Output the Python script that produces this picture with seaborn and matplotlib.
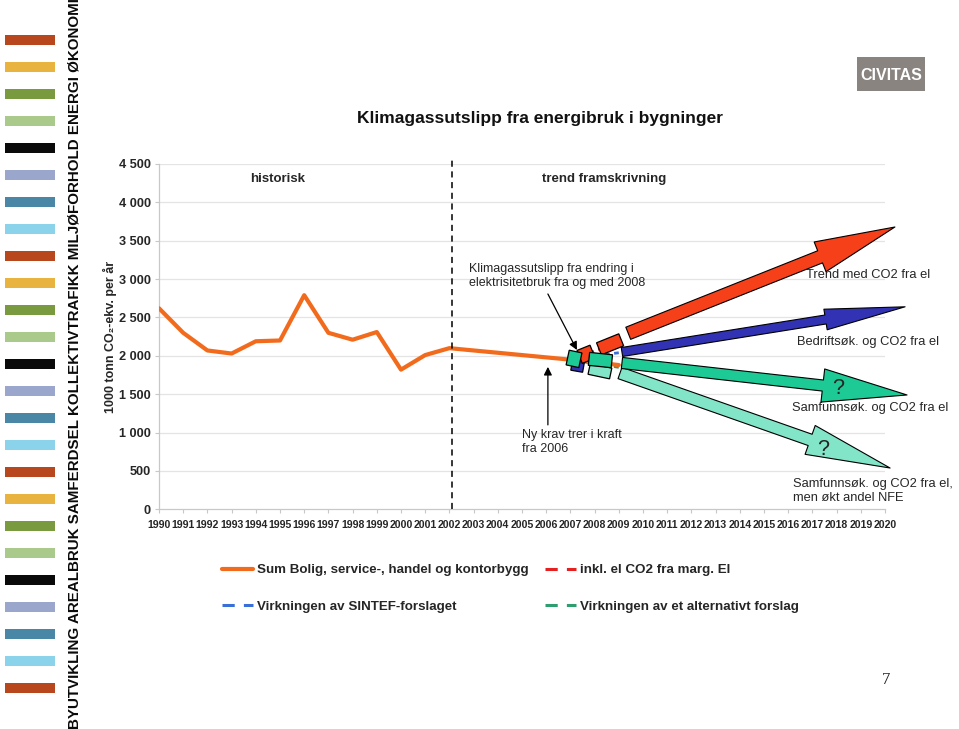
import numpy as np
import pandas as pd
import seaborn as sns
import matplotlib
matplotlib.use("Agg")
import matplotlib.pyplot as plt
from matplotlib.patches import Rectangle, Polygon
from matplotlib.lines import Line2D
from matplotlib.transforms import IdentityTransform

# ---------------- data ----------------
years_hist = list(range(1990, 2010))
sum_bygg = [2620, 2300, 2070, 2030, 2190, 2200, 2790, 2300, 2210, 2310,
            1820, 2010, 2100, 2070, 2040, 2010, 1980, 1950, 1915, 1880]
years_branch = [2007, 2008, 2009]
marg_el = [1950, 2060, 2180]
sintef = [1950, 2000, 2040]
alternativ = [1950, 1900, 1850]

x_years = list(range(1990, 2021))
y_ticks = [0, 500, 1000, 1500, 2000, 2500, 3000, 3500, 4000, 4500]
y_tick_labels = ["0", "500", "1 000", "1 500", "2 000", "2 500", "3 000", "3 500", "4 000", "4 500"]

# projection arrows (tail -> tip, in year / value)
arrow_names = ["trend", "bedrift", "samfunn", "samfunn_nfe"]
arrow_tail_x = [2009.39, 2009.13, 2009.13, 2009.05]
arrow_tail_y = [2294, 2050, 1907, 1776]
arrow_tip_x = [2020.41, 2020.83, 2020.91, 2020.21]
arrow_tip_y = [3679, 2639, 1490, 538]

SANS = "Liberation Sans"

sns.set_theme(style="white")
plt.rcParams["font.family"] = [SANS, "DejaVu Sans"]

W, H = 959, 729
fig = plt.figure(figsize=(W / 100, H / 100), dpi=100)

# background axes in pixel coordinates (slide decoration)
bg = fig.add_axes([0, 0, 1, 1], zorder=-5)
bg.set_xlim(0, W)
bg.set_ylim(H, 0)
bg.axis("off")

strip_colors = ["#B9471E", "#E9B33F", "#7A9A40", "#A9CA8A",
                "#0A0A0A", "#9AA6CB", "#4A87A6", "#8AD3EA"]
for i in range(25):
    yc = 40 + i * 27.0
    bg.add_patch(Rectangle((5, yc - 5), 50, 10, color=strip_colors[i % 8], lw=0))
bg.text(75, 364, "BYUTVIKLING AREALBRUK SAMFERDSEL KOLLEKTIVTRAFIKK MILJØFORHOLD ENERGI ØKONOMI",
        rotation=90, ha="center", va="center", fontsize=10.9, fontweight="bold",
        color="#0A0A0A")
bg.add_patch(Rectangle((857, 57), 68, 34, color="#8A8480", lw=0))
bg.text(891, 75, "CIVITAS", ha="center", va="center", color="white", fontsize=11.5,
        fontweight="bold")
bg.text(886, 680, "7", ha="center", va="center", fontsize=12,
        family=["Liberation Serif", "DejaVu Serif"], color="#222222")
bg.text(540, 118, "Klimagassutslipp fra energibruk i bygninger", ha="center", va="center",
        fontsize=12.5, fontweight="bold", color="#111111")

# main axes
ax = fig.add_axes([159 / W, 1 - 509.3 / H, 726 / W, (509.3 - 164) / H])
ax.set_xlim(1990, 2020)
ax.set_ylim(0, 4500)
ax.set_facecolor("none")

for v in y_ticks[1:]:
    ax.axhline(v, color="#E4E4E4", lw=0.9, zorder=0)

ORANGE = "#F26B1D"
sns.lineplot(x=years_hist, y=sum_bygg, ax=ax, color=ORANGE, lw=3.0, zorder=3)
sns.lineplot(x=years_branch, y=marg_el, ax=ax, color="#E52020", lw=2.0, linestyle="--", zorder=2)
sns.lineplot(x=years_branch, y=sintef, ax=ax, color="#3A6FD8", lw=2.0, linestyle="--", zorder=2)
sns.lineplot(x=years_branch, y=alternativ, ax=ax, color="#2E9E6E", lw=2.0, linestyle="--", zorder=2)

ax.set_xticks(x_years)
ax.set_xticklabels([str(y) for y in x_years], fontsize=7.6, fontweight="bold")
ax.set_yticks(y_ticks)
ax.set_yticklabels(y_tick_labels, fontsize=9.2, fontweight="bold")
ax.tick_params(axis="x", direction="out", length=3, width=0.8, color="#C8C8C8", pad=5, bottom=True)
ax.tick_params(axis="y", direction="out", length=3, width=0.8, color="#C8C8C8", pad=3, left=True)
for s in ["top", "right"]:
    ax.spines[s].set_visible(False)
for s in ["left", "bottom"]:
    ax.spines[s].set_color("#C8C8C8")
    ax.spines[s].set_linewidth(0.9)
ax.set_xlabel("")
ax.set_ylabel("1000 tonn CO₂-ekv. per år", fontsize=9.0, fontweight="bold")
ax.yaxis.label.set_va("center")
ax.yaxis.set_label_coords(-0.067, 0.5)

# dashed separator historic / projection
ax.plot([2002.1, 2002.1], [0, 4560], color="black", lw=1.1, ls=(0, (4, 3)), clip_on=False, zorder=4)
ax.text(1994.9, 4310, "historisk", ha="center", va="center", fontsize=9.5, fontweight="bold")
ax.text(2008.4, 4310, "trend framskrivning", ha="center", va="center", fontsize=9.5, fontweight="bold")

# small rotated boxes (pixel sizes)
def rot_box(center, w, h, angle, fc, z):
    cx, cy = ax.transData.transform(center)
    t = np.deg2rad(angle)
    R = np.array([[np.cos(t), -np.sin(t)], [np.sin(t), np.cos(t)]])
    c = np.array([[-w / 2, -h / 2], [w / 2, -h / 2], [w / 2, h / 2], [-w / 2, h / 2]])
    pts = c @ R.T + [cx, cy]
    ax.add_patch(Polygon(pts, closed=True, transform=IdentityTransform(), fc=fc,
                         ec="black", lw=0.9, zorder=z, clip_on=False))

RED, BLUE, GREEN, LGREEN = "#F5401A", "#3232B4", "#1DC994", "#82E5C8"
rot_box((2007.30, 1870), 12, 11, -10, BLUE, 5)
rot_box((2007.65, 2020), 14, 14, 22, RED, 5)
rot_box((2007.15, 1960), 13, 15, -12, GREEN, 6)
rot_box((2008.64, 2150), 24, 13, 22, RED, 5)
rot_box((2008.22, 1800), 22, 11, -12, LGREEN, 5)
rot_box((2008.24, 1945), 23, 13, -6, GREEN, 6)

# projection arrows (sizes in points)
arrow_colors = [RED, BLUE, GREEN, LGREEN]
arrow_tail_w = [9.4, 6.5, 8.0, 8.6]
arrow_head_w = [23, 15, 24, 22]
arrow_head_l = [58, 58, 61, 61]
arrow_z = [7, 7, 7, 6]
for i in range(4):
    ax.annotate("", xy=(arrow_tip_x[i], arrow_tip_y[i]),
                xytext=(arrow_tail_x[i], arrow_tail_y[i]),
                xycoords="data", textcoords="data", annotation_clip=False,
                arrowprops=dict(arrowstyle=f"simple,head_length={arrow_head_l[i]},"
                                           f"head_width={arrow_head_w[i]},tail_width={arrow_tail_w[i]}",
                                mutation_scale=1, fc=arrow_colors[i], ec="black", lw=0.8,
                                shrinkA=0, shrinkB=0),
                zorder=arrow_z[i])

# labels by arrows
ax.text(2016.74, 3050, "Trend med CO2 fra el", fontsize=9.3, va="center", ha="left")
ax.text(2016.36, 2177, "Bedriftsøk. og CO2 fra el", fontsize=9.3, va="center", ha="left")
ax.text(2016.16, 1321, "Samfunnsøk. og CO2 fra el", fontsize=9.3, va="center", ha="left")
ax.text(2016.20, 237, "Samfunnsøk. og CO2 fra el,\nmen økt andel NFE", fontsize=9.3,
        va="center", ha="left", linespacing=1.2)
ax.text(2018.06, 1568, "?", fontsize=15.5, ha="center", va="center", zorder=9)
ax.text(2017.44, 773, "?", fontsize=15.5, ha="center", va="center", zorder=9)

# black callouts
ax.text(2002.81, 3039, "Klimagassutslipp fra endring i\nelektrisitetbruk fra og med 2008",
        fontsize=9.0, va="center", ha="left", linespacing=1.15)
ax.annotate("", xy=(2007.27, 2076), xytext=(2006.07, 2806),
            arrowprops=dict(arrowstyle="-|>", color="black", lw=0.9, mutation_scale=12,
                            shrinkA=0, shrinkB=0), zorder=8)
ax.text(2005.0, 877, "Ny krav trer i kraft\nfra 2006", fontsize=9.0, va="center", ha="left",
        linespacing=1.15)
ax.annotate("", xy=(2006.07, 1856), xytext=(2006.07, 1100),
            arrowprops=dict(arrowstyle="-|>", color="black", lw=0.9, mutation_scale=12,
                            shrinkA=0, shrinkB=0), zorder=8)

# legend (two columns)
leg_font = dict(weight="bold", size=9.6)
h_orange = Line2D([], [], color=ORANGE, lw=3)
h_blue = Line2D([], [], color="#3A6FD8", lw=2.2, ls=(0, (4, 3)))
h_red = Line2D([], [], color="#E52020", lw=2.2, ls=(0, (4, 3)))
h_green = Line2D([], [], color="#2E9E6E", lw=2.2, ls=(0, (4, 3)))
common = dict(frameon=False, loc="upper left", handlelength=2.3, handletextpad=0.3,
              labelspacing=1.8, borderpad=0, borderaxespad=0, prop=leg_font)
l1 = fig.legend([h_orange, h_blue], ["Sum Bolig, service-, handel og kontorbygg",
                                     "Virkningen av SINTEF-forslaget"],
                bbox_to_anchor=(222 / W, 1 - 564 / H), **common)
l2 = fig.legend([h_red, h_green], ["inkl. el CO2 fra marg. El",
                                   "Virkningen av et alternativt forslag"],
                bbox_to_anchor=(545 / W, 1 - 564 / H), **common)

fig.savefig("out.png", dpi=100)
